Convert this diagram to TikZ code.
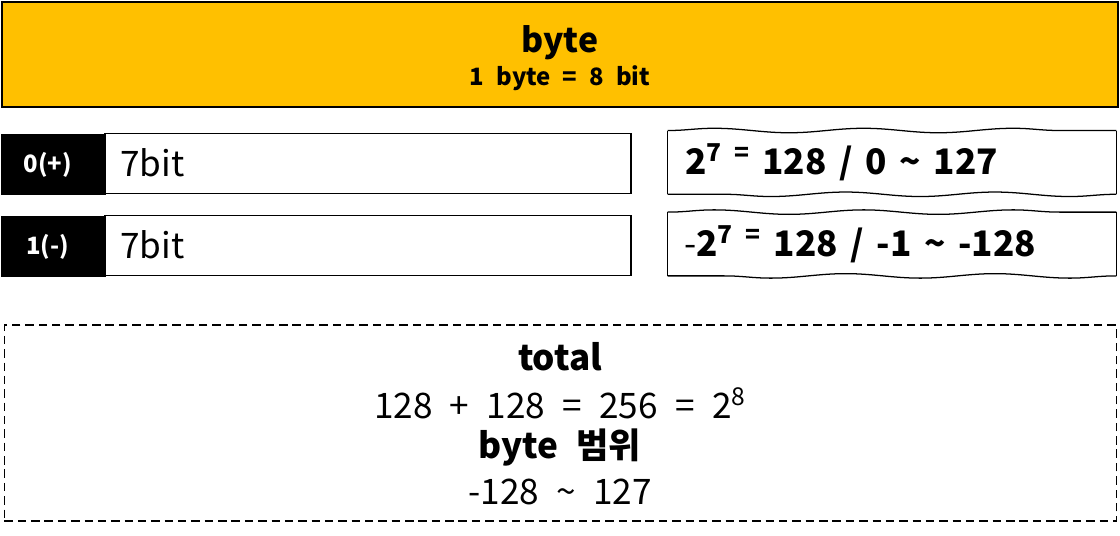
\documentclass[tikz,border=0pt]{standalone}
\usepackage{fontspec}
\setmainfont[WordSpace=2.2]{Noto Sans CJK KR}
\definecolor{bytegold}{HTML}{FFC000}
\usetikzlibrary{decorations.pathmorphing}
\newcommand{\fs}[1]{\fontsize{#1}{#1}\selectfont}
\newcommand{\rangespace}{\spaceskip=0.36em\relax}
\begin{document}
\begin{tikzpicture}[
  every node/.style={inner sep=0pt},
  topbox/.style={draw,line width=1.8pt,fill=bytegold,minimum width=27.9cm,minimum height=2.62cm},
  signbox/.style={draw,line width=0.9pt,fill=black,text=white,font=\bfseries\fs{17},minimum width=2.58cm,minimum height=1.5cm},
  bitbox/.style={draw,line width=0.9pt,fill=white,minimum width=13.15cm,minimum height=1.5cm},
  wavybox/.style={minimum width=11.2cm,minimum height=1.58cm},
  wave/.style={line width=0.9pt,decorate,decoration={snake,segment length=3.733cm,amplitude=1.6pt}},
  bigtxt/.style={font=\fs{25}},
  boldtxt/.style={font=\bfseries\fs{25}},
  rangetxt/.style={font={\bfseries\fs{25}\rangespace},anchor=west},
  totalbox/.style={draw,line width=1.1pt,dash pattern=on 6pt off 3.5pt,minimum width=27.8cm,minimum height=4.9cm}
]
\useasboundingbox (0,0) rectangle (28,-13.4);
% header
\node[topbox] (byte) at (14,-1.36) {};
\node[font=\bfseries\fs{24}] (bytettl) at (14,-1.06) {byte};
\node[font=\bfseries\fs{17}] (bytesub) at (14,-1.96) {1 byte = 8 bit};
% sign bit + 7 bits
\node[bitbox] (bitpos) at (9.2,-4.08) {};
\node[signbox] (signpos) at (1.34,-4.12) {\hspace*{-0.3cm}0(+)};
\node[bigtxt,anchor=west] (bitpostxt) at (3.0,-4.08) {7bit};
\node[bitbox] (bitneg) at (9.2,-6.13) {};
\node[signbox] (signneg) at (1.34,-6.17) {\hspace*{-0.3cm}1(-)};
\node[bigtxt,anchor=west] (bitnegtxt) at (3.0,-6.13) {7bit};
% ranges
\node[wavybox] (rangepos) at (22.3,-4.06) {};
\draw[wave] (rangepos.north west) -- (rangepos.north east);
\draw[line width=0.9pt] (rangepos.north east) -- (rangepos.south east);
\draw[wave] (rangepos.south east) -- (rangepos.south west);
\draw[line width=0.9pt] (rangepos.south west) -- (rangepos.north west);
\node[rangetxt] (rangepostxt) at (17.12,-4.06) {2\textsuperscript{7 =} 128 / 0 \textasciitilde{} 127};
\node[wavybox] (rangeneg) at (22.3,-6.1) {};
\draw[wave] (rangeneg.north west) -- (rangeneg.north east);
\draw[line width=0.9pt] (rangeneg.north east) -- (rangeneg.south east);
\draw[wave] (rangeneg.south east) -- (rangeneg.south west);
\draw[line width=0.9pt] (rangeneg.south west) -- (rangeneg.north west);
\node[rangetxt] (rangenegtxt) at (17.1,-6.1) {{\mdseries-}2\textsuperscript{7 =} 128 / -1 \textasciitilde{} -128};
% total
\node[totalbox] (total) at (14.01,-10.58) {};
\node[boldtxt] (totalttl) at (14,-8.93) {total};
\node[bigtxt] (totalsum) at (14,-10.08) {128 + 128 = 256 = 2\textsuperscript{8}};
\node[boldtxt] (rangettl) at (14,-11.2) {byte 범위};
\node[bigtxt] (rangeval) at (14,-12.3) {-128 \textasciitilde{} 127};
\end{tikzpicture}
\end{document}
